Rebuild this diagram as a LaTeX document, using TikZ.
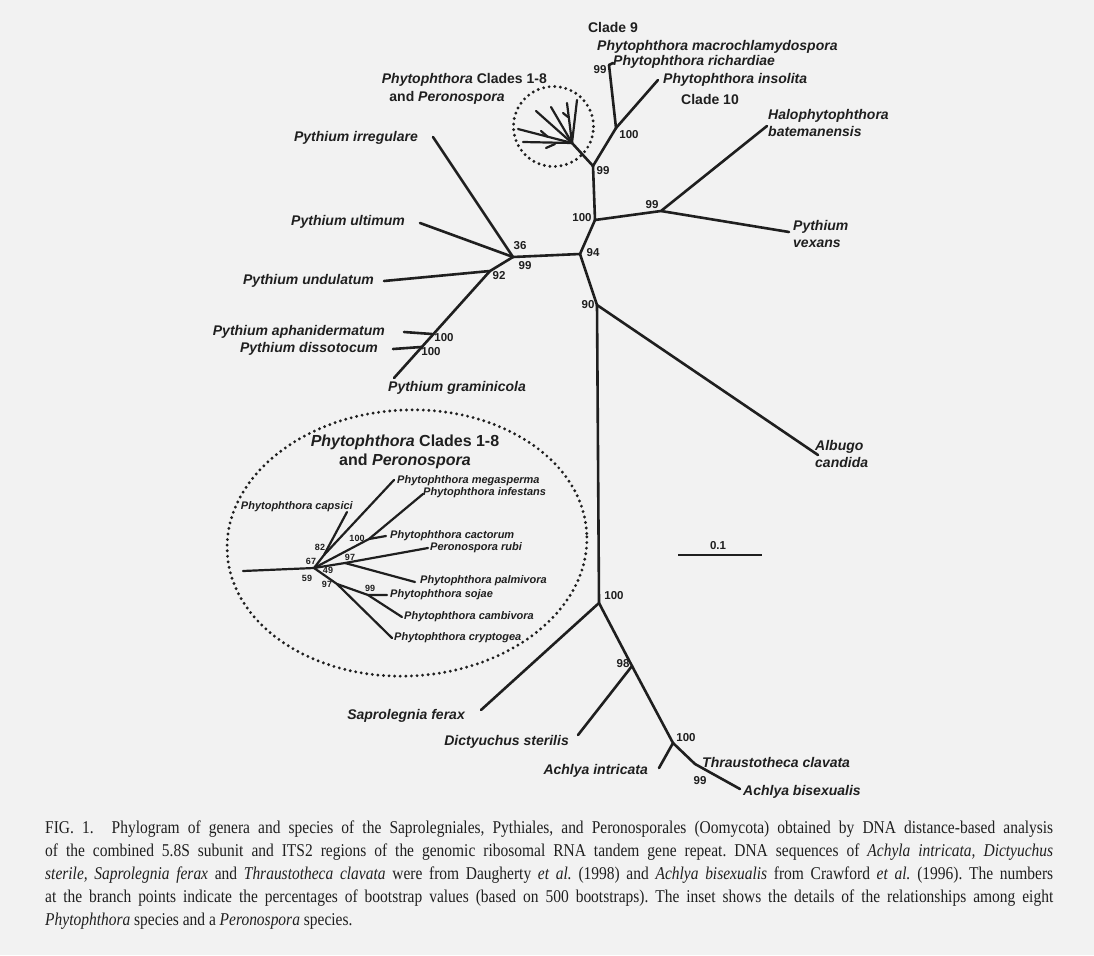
\documentclass[tikz,border=0pt]{standalone}
\usepackage{fontspec}
\setmainfont{Liberation Serif}[FakeStretch=0.86]
\setsansfont{Liberation Sans}
\colorlet{pageGray}{black!5}
\colorlet{ink}{black!88}

\tikzset{
  branch/.style={line width=2.6pt, draw=ink, line cap=round},
  twig/.style={line width=2.2pt, draw=ink, line cap=round},
  dotring/.style={draw=ink, line width=3.2pt, line cap=round, dash pattern=on 0pt off 5.6pt},
  taxon/.style={font=\sffamily\bfseries\itshape\fontsize{14}{17}\selectfont, text=ink, inner sep=0pt},
  smalltaxon/.style={font=\sffamily\bfseries\itshape\fontsize{11}{13}\selectfont, text=ink, inner sep=0pt},
  clade/.style={font=\sffamily\bfseries\fontsize{14}{17}\selectfont, text=ink, inner sep=0pt},
  insettitle/.style={font=\sffamily\bfseries\fontsize{16}{19}\selectfont, text=ink, inner sep=0pt},
  boot/.style={font=\sffamily\bfseries\fontsize{11.5}{13}\selectfont, text=ink, inner sep=0pt},
  smallboot/.style={font=\sffamily\bfseries\fontsize{9}{10}\selectfont, text=ink, inner sep=0pt},
  capline/.style={font=\frenchspacing\fontsize{18}{23}\selectfont, text=ink, inner sep=0pt, align=left},
}

\begin{document}
\begin{tikzpicture}[x=1pt, y=-1pt]
  \fill[pageGray] (0,0) rectangle (1094,955);
  \useasboundingbox (0,0) rectangle (1094,955);

  % branch points and tips of the main tree
  \coordinate (n100t) at (616,128);
  \coordinate (tRich) at (609,65);
  \coordinate (tInso) at (658,80);
  \coordinate (n99c) at (593,166);
  \coordinate (hub) at (572,143);
  \coordinate (n100a) at (595,220);
  \coordinate (n99h) at (661,211);
  \coordinate (tHalo) at (767,126);
  \coordinate (tVex) at (789,232);
  \coordinate (n94) at (580,254);
  \coordinate (n36) at (513,257);
  \coordinate (tIrr) at (433,137);
  \coordinate (tUlt) at (420,223);
  \coordinate (n92) at (490,271);
  \coordinate (tUnd) at (384,281);
  \coordinate (nAph) at (432,334);
  \coordinate (tAph) at (404,332);
  \coordinate (nDis) at (421,347);
  \coordinate (tDis) at (393,349);
  \coordinate (tGram) at (394,378);
  \coordinate (n90) at (597,305);
  \coordinate (tAlb) at (818,455);
  \coordinate (n100b) at (599,603);
  \coordinate (tSap) at (481,710);
  \coordinate (n98) at (632,666);
  \coordinate (tDic) at (578,735);
  \coordinate (n100c) at (673,743);
  \coordinate (tInt) at (659,768);
  \coordinate (n99a) at (695,764);
  \coordinate (tBis) at (740,789);

  \draw[branch] (tRich) -- (n100t) -- (tInso);
  \draw[branch] (tRich) -- ++(4,-2);
  \draw[branch] (n100t) -- (n99c) -- (hub);
  \draw[branch] (n99c) -- (n100a) -- (n99h) -- (tHalo);
  \draw[branch] (n99h) -- (tVex);
  \draw[branch] (n100a) -- (n94) -- (n36) -- (tIrr);
  \draw[branch] (n36) -- (tUlt);
  \draw[branch] (n36) -- (n92) -- (tUnd);
  \draw[branch] (n92) -- (tGram);
  \draw[branch] (nAph) -- (tAph);
  \draw[branch] (nDis) -- (tDis);
  \draw[branch] (n94) -- (n90) -- (tAlb);
  \draw[branch] (n90) -- (n100b) -- (tSap);
  \draw[branch] (n100b) -- (n98) -- (tDic);
  \draw[branch] (n98) -- (n100c) -- (tInt);
  \draw[branch] (n100c) -- (n99a) -- (tBis);

  % collapsed clades 1-8
  \draw[twig] (hub) -- (518,129);
  \draw[twig] (548,137) -- (541,131);
  \draw[twig] (hub) -- (523,142);
  \draw[twig] (555,144) -- (546,148);
  \draw[twig] (hub) -- (536,111);
  \draw[twig] (hub) -- (551,107);
  \draw[twig] (hub) -- (567,103);
  \draw[twig] (563,113) -- (568,117);
  \draw[twig] (hub) -- (577,100);
  \draw[dotring] (553.5,126.5) circle [radius=40pt];

  \node[clade] (clade9) at (613,27) {Clade 9};
  \node[taxon, anchor=west] (macro) at (597,47) {Phytophthora macrochlamydospora};
  \node[taxon, anchor=west] (rich) at (613,62) {Phytophthora richardiae};
  \node[taxon, anchor=west] (inso) at (663,80) {Phytophthora insolita};
  \node[clade] (clade10) at (710,99) {Clade 10};
  \node[taxon, anchor=east] (cladesTop) at (547,80) {Phytophthora \upshape Clades 1-8};
  \node[taxon] (peroTop) at (447,98) {\upshape and \itshape Peronospora};
  \node[taxon, anchor=west, align=left] (halo) at (768,123) {Halophytophthora\\batemanensis};
  \node[taxon, anchor=west, align=left] (vex) at (793,234) {Pythium\\vexans};
  \node[taxon, anchor=east] (irr) at (418,138) {Pythium irregulare};
  \node[taxon, anchor=east] (ult) at (405,222) {Pythium ultimum};
  \node[taxon, anchor=east] (und) at (374,281) {Pythium undulatum};
  \node[taxon, anchor=east] (aph) at (385,332) {Pythium aphanidermatum};
  \node[taxon, anchor=east] (dis) at (378,349) {Pythium dissotocum};
  \node[taxon, anchor=west] (gram) at (388,388) {Pythium graminicola};
  \node[taxon, anchor=west, align=left] (alb) at (815,454) {Albugo\\candida};
  \node[taxon, anchor=east] (sap) at (465,716) {Saprolegnia ferax};
  \node[taxon, anchor=east] (dic) at (569,742) {Dictyuchus sterilis};
  \node[taxon, anchor=east] (intr) at (648,771) {Achlya intricata};
  \node[taxon, anchor=west] (thr) at (702,762) {Thraustotheca clavata};
  \node[taxon, anchor=west] (bis) at (743,792) {Achlya bisexualis};

  \node[boot] (b1) at (600,70) {99};
  \node[boot] (b2) at (629,135) {100};
  \node[boot] (b3) at (603,171) {99};
  \node[boot] (b4) at (582,218) {100};
  \node[boot] (b5) at (652,205) {99};
  \node[boot] (b6) at (593,253) {94};
  \node[boot] (b7) at (520,246) {36};
  \node[boot] (b8) at (525,266) {99};
  \node[boot] (b9) at (499,276) {92};
  \node[boot] (b10) at (444,338) {100};
  \node[boot] (b11) at (431,352) {100};
  \node[boot] (b12) at (588,305) {90};
  \node[boot] (b13) at (614,596) {100};
  \node[boot] (b14) at (623,664) {98};
  \node[boot] (b15) at (686,738) {100};
  \node[boot] (b16) at (700,781) {99};

  % scale bar
  \coordinate (barL) at (678,555);
  \coordinate (barR) at (762,555);
  \draw[branch, line cap=butt] (barL) -- (barR);
  \node[boot] (barlab) at (718,546) {0.1};

  % inset
  \begin{scope}
    \draw[dotring, rotate around={3:(407,543)}] (407,543) ellipse [x radius=180pt, y radius=133pt];
    \node[insettitle, align=center] (insetTitle) at (405,452)
      {\itshape Phytophthora \upshape Clades 1-8\\and \itshape Peronospora};

    \coordinate (iRoot) at (243,571);
    \coordinate (iHub) at (314,568);
    \coordinate (i82) at (324,555);
    \coordinate (i100) at (369,539);
    \coordinate (i97a) at (345,563);
    \coordinate (i97b) at (337,584);
    \coordinate (i99) at (368,595);
    \draw[twig] (iRoot) -- (iHub) -- (i82) -- (347,512);
    \draw[twig] (i82) -- (394,480);
    \draw[twig] (iHub) -- (i100) -- (423,494);
    \draw[twig] (i100) -- (386,536);
    \draw[twig] (iHub) -- (i97a) -- (428,548);
    \draw[twig] (i97a) -- (415,582);
    \draw[twig] (iHub) -- (i97b) -- (392,638);
    \draw[twig] (i97b) -- (i99) -- (387,595);
    \draw[twig] (i99) -- (402,617);

    \node[smalltaxon, anchor=west] (mega) at (397,481) {Phytophthora megasperma};
    \node[smalltaxon, anchor=west] (infe) at (423,493) {Phytophthora infestans};
    \node[smalltaxon, anchor=east] (caps) at (353,507) {Phytophthora capsici};
    \node[smalltaxon, anchor=west] (cact) at (390,536) {Phytophthora cactorum};
    \node[smalltaxon, anchor=west] (rubi) at (430,548) {Peronospora rubi};
    \node[smalltaxon, anchor=west] (palm) at (420,581) {Phytophthora palmivora};
    \node[smalltaxon, anchor=west] (soja) at (390,595) {Phytophthora sojae};
    \node[smalltaxon, anchor=west] (camb) at (404,617) {Phytophthora cambivora};
    \node[smalltaxon, anchor=west] (cryp) at (394,638) {Phytophthora cryptogea};

    \node[smallboot] (s1) at (320,547) {82};
    \node[smallboot] (s2) at (311,561) {67};
    \node[smallboot] (s3) at (328,570) {49};
    \node[smallboot] (s4) at (307,578) {59};
    \node[smallboot] (s5) at (350,557) {97};
    \node[smallboot] (s6) at (357,538) {100};
    \node[smallboot] (s7) at (327,584) {97};
    \node[smallboot] (s8) at (370,588) {99};
  \end{scope}

  \node[capline, anchor=north west] (caption) at (45,821) {%
    \makebox[1008pt][s]{FIG. 1.\quad Phylogram of genera and species of the Saprolegniales, Pythiales, and Peronosporales (Oomycota) obtained by DNA distance-based analysis}\\
    \makebox[1008pt][s]{of the combined 5.8S subunit and ITS2 regions of the genomic ribosomal RNA tandem gene repeat. DNA sequences of \textit{Achyla intricata, Dictyuchus}}\\
    \makebox[1008pt][s]{\textit{sterile, Saprolegnia ferax} and \textit{Thraustotheca clavata} were from Daugherty \textit{et al.} (1998) and \textit{Achlya bisexualis} from Crawford \textit{et al.} (1996). The numbers}\\
    \makebox[1008pt][s]{at the branch points indicate the percentages of bootstrap values (based on 500 bootstraps). The inset shows the details of the relationships among eight}\\
    \textit{Phytophthora} species and a \textit{Peronospora} species.};
\end{tikzpicture}
\end{document}
